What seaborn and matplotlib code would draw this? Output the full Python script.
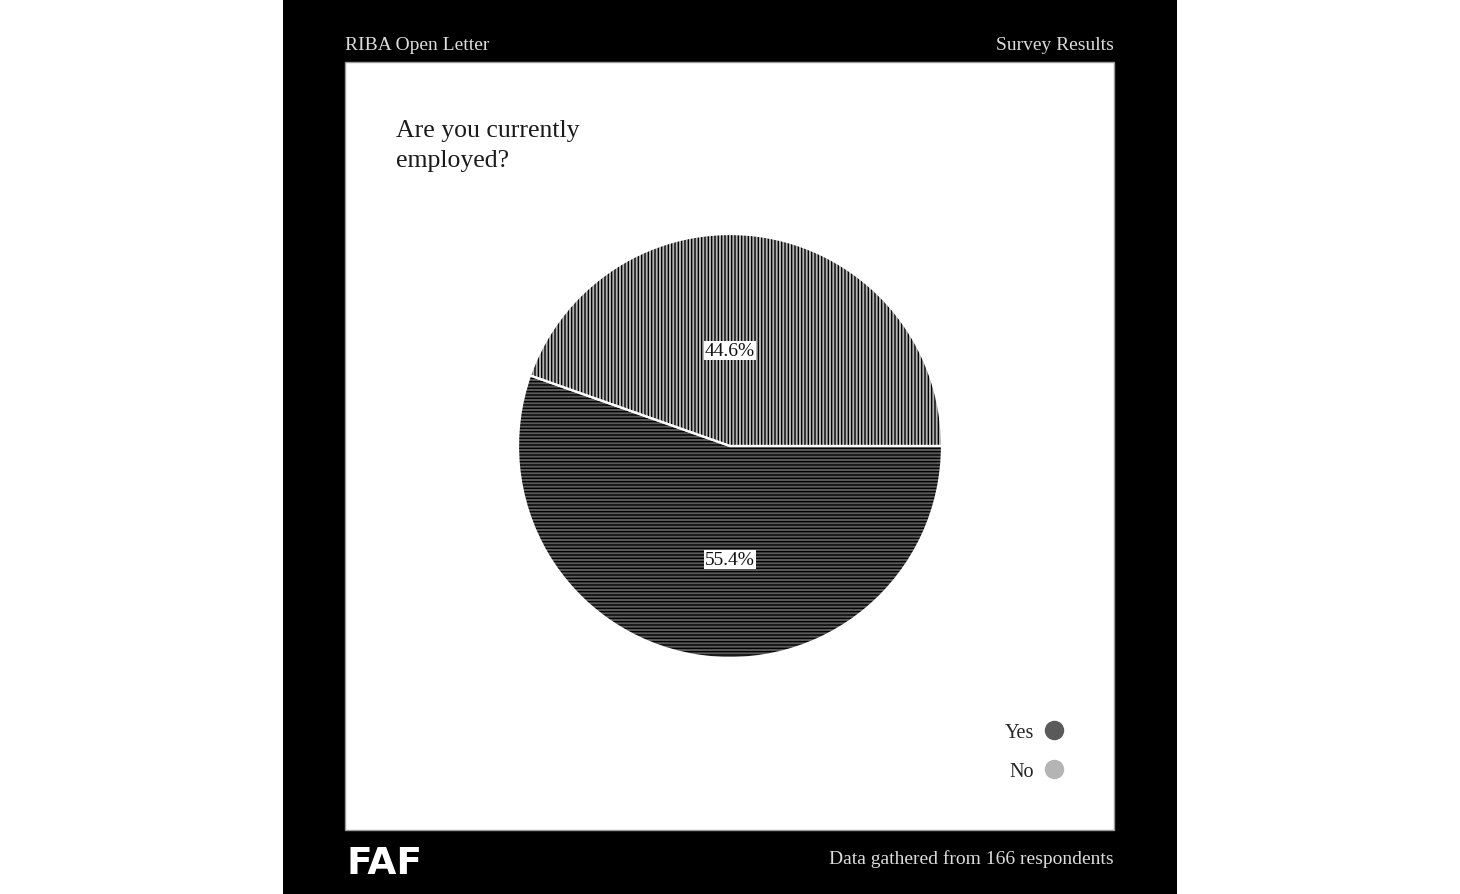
import matplotlib
matplotlib.use("Agg")
import matplotlib.pyplot as plt
import matplotlib.patches as mpatches
from matplotlib.lines import Line2D
import seaborn as sns

# ---- data ----
categories = ["Yes", "No"]
shares = [55.4, 44.6]
legend_labels = ["Yes", "No"]
title = "Are you currently\nemployed?"
header_left = "RIBA Open Letter"
header_right = "Survey Results"
footer_right = "Data gathered from 166 respondents"
footer_logo = "FAF"

sns.set_style("white")
plt.rcParams["font.family"] = ["Liberation Serif", "DejaVu Serif"]
plt.rcParams["hatch.linewidth"] = 1.0
plt.rcParams["hatch.color"] = "black"

colors = {"Yes": "#5a5a5a", "No": "#b4b4b4"}
hatches = {"Yes": "-----", "No": "|||||"}

W, H = 1460, 895
fig = plt.figure(figsize=(W / 100, H / 100), dpi=100)
fig.patch.set_facecolor("white")

def fx(px):
    return px / W

def fy(py):
    return 1 - py / H

# black panel
fig.patches.append(mpatches.Rectangle((fx(283), 0), fx(1177) - fx(283), 1,
                                      transform=fig.transFigure, facecolor="black",
                                      edgecolor="none", zorder=-3))
# white inner board
fig.patches.append(mpatches.Rectangle((fx(345), fy(831)), fx(1114) - fx(345), fy(63) - fy(831),
                                      transform=fig.transFigure, facecolor="white",
                                      edgecolor="#9a9a9a", linewidth=1.0, zorder=-2))

# header / footer
fig.text(fx(345), fy(46), header_left, color="#dcdcdc", fontsize=14, va="center", ha="left")
fig.text(fx(1114), fy(46), header_right, color="#dcdcdc", fontsize=14, va="center", ha="right")
fig.text(fx(1114), fy(859), footer_right, color="#dcdcdc", fontsize=14, va="center", ha="right")
fig.text(fx(346), fy(864), footer_logo, color="white", fontsize=27, fontweight="bold",
         family="DejaVu Sans", va="center", ha="left")

# title
fig.text(fx(396), fy(120), title, color="#1a1a1a", fontsize=18.5, va="top", ha="left",
         linespacing=1.45)

# pie
cx, cy, r = 730, 447, 212
ax = fig.add_axes([fx(cx - r), fy(cy + r), (2 * r) / W, (2 * r) / H])
ax.patch.set_visible(False)
order = ["No", "Yes"]
vals = [shares[categories.index(c)] for c in order]
wedges, _ = ax.pie(vals, startangle=0, counterclock=True,
                   colors=[colors[c] for c in order],
                   wedgeprops=dict(linewidth=0, edgecolor="black"))
for w, c in zip(wedges, order):
    w.set_hatch(hatches[c])
# white separating edges drawn on top
ax.pie(vals, startangle=0, counterclock=True,
       wedgeprops=dict(linewidth=1.6, edgecolor="white", fill=False))
ax.set_xlim(-1.0, 1.0)
ax.set_ylim(-1.0, 1.0)

label_pos = {"No": 0.45, "Yes": -0.535}
for c in order:
    v = shares[categories.index(c)]
    ax.text(0, label_pos[c], f"{v:.1f}%", ha="center", va="center", fontsize=14,
            color="#111111",
            bbox=dict(facecolor="white", edgecolor="none", pad=0.5))

# legend
handles = [Line2D([0], [0], marker="o", linestyle="none", markersize=13,
                  markerfacecolor=colors[c], markeredgecolor=colors[c]) for c in legend_labels]
fig.legend(handles, legend_labels, loc="center right", bbox_to_anchor=(fx(1082), fy(753)),
           frameon=False, markerfirst=False, fontsize=14.5, labelspacing=1.0,
           handletextpad=0.5, handlelength=1.0)

fig.savefig("out.png", dpi=100, facecolor="white")
